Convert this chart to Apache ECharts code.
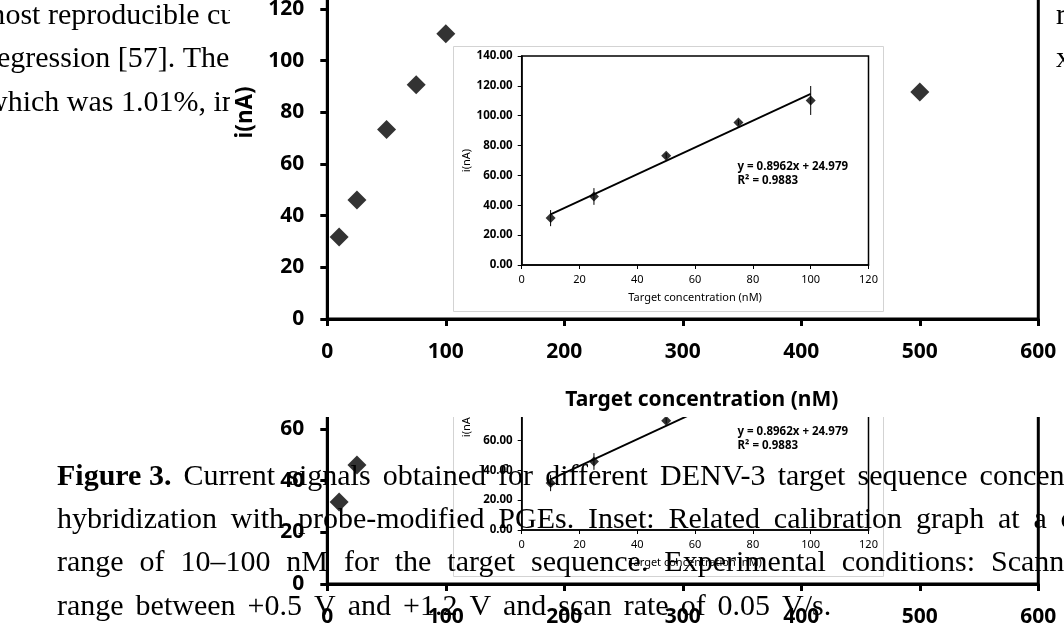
<!DOCTYPE html>
<html>
<head>
<meta charset="utf-8">
<script src="https://cdn.jsdelivr.net/npm/echarts@6/dist/echarts.min.js"></script>
<style>
  html, body { margin: 0; padding: 0; background: #fff; }
  #stage { position: relative; width: 1064px; height: 632px; overflow: hidden; background: #fff; }
  #main { position: absolute; left: 0; top: 0; width: 1064px; height: 632px; }
  #copyClip { position: absolute; left: 0; top: 417px; width: 1064px; height: 215px; overflow: hidden; background: #fff; }
  #copy { position: absolute; left: 0; top: -152px; width: 1064px; height: 632px; }
  #caption { position: absolute; left: 0; top: 0; width: 1064px; height: 632px; }
</style>
</head>
<body>
<div id="stage">
  <div id="main"></div>
  <div id="copyClip"><div id="copy"></div></div>
  <div id="caption"></div>
</div>
<script>
// Current response vs. target concentration (full range)
const concMain = [10, 25, 50, 75, 100, 500];
const currentMain = [31.7, 46.1, 73.4, 90.7, 110.4, 87.9];

// Calibration inset (10–100 nM) with standard deviations
const concInset = [10, 25, 50, 75, 100];
const currentInset = [31.4, 45.9, 73.2, 95.4, 110.2];
const sdInset = [5.4, 5.6, 1.8, 1.8, 9.7];

// Linear fit reported on the inset
const fitSlope = 0.8962;
const fitIntercept = 24.979;
const fitR2 = 0.9883;
const fitRange = [10, 100];

// Axis ranges [min, max, interval]
const mainXRange = [0, 600, 100];
const mainYRange = [0, 160, 20];
const insetXRange = [0, 120, 20];
const insetYRange = [0, 140, 20];

// Surrounding page text
const bodyLeft = ['most reproducible current', 'regression [57]. The linear', 'which was 1.01%, in'];
const bodyRight = ['r', 'x'];
const captionLines = [
  ['Figure 3.', 'Current', 'signals', 'obtained', 'for', 'different', 'DENV-3', 'target', 'sequence', 'concentrations', 'after'],
  ['hybridization', 'with', 'probe-modified', 'PGEs.', 'Inset:', 'Related', 'calibration', 'graph', 'at', 'a', 'concentration'],
  ['range', 'of', '10–100', 'nM', 'for', 'the', 'target', 'sequence.', 'Experimental', 'conditions:', 'Scanning'],
  ['range', 'between', '+0.5', 'V', 'and', '+1.2', 'V', 'and', 'scan', 'rate', 'of', '0.05', 'V/s.']
];

const SANS = 'Noto Sans';
const SERIF = 'Liberation Serif';
const BODY_SIZE = 30;

const measureCtx = document.createElement('canvas').getContext('2d');
function textWidth(str, size, weight) {
  measureCtx.font = `${weight} ${size}px "${SERIF}"`;
  return measureCtx.measureText(str).width;
}
// y for a 'middle'-aligned serif line sitting on a given baseline
function midFromBaseline(b, size) { return b - 0.34 * size; }

function serifText(str, x, baseline, weight, z) {
  return {
    type: 'text', x: x, y: midFromBaseline(baseline, BODY_SIZE), z: z || 0, silent: true,
    style: { text: str, fontFamily: SERIF, fontSize: BODY_SIZE, fontWeight: weight || 'normal',
             fill: '#000', align: 'left', verticalAlign: 'middle' }
  };
}

function buildChartOption() {
  const mainPoints = concMain.map((c, i) => [c, currentMain[i]]);
  const insetPoints = concInset.map((c, i) => [c, currentInset[i]]);
  const insetBars = concInset.map((c, i) => [c, currentInset[i] - sdInset[i], currentInset[i] + sdInset[i]]);
  const fitLine = fitRange.map(x => [x, fitSlope * x + fitIntercept]);

  const bodyBaselines = [26, 69.5, 113];
  const bodyLeftX = [-17.9, -13, -14];
  const graphics = [];
  bodyLeft.forEach((t, i) => graphics.push(serifText(t, bodyLeftX[i], bodyBaselines[i], 'normal', 0)));
  bodyRight.forEach((t, i) => graphics.push(serifText(t, 1056, bodyBaselines[i], 'normal', 0)));
  // white figure area
  graphics.push({ type: 'rect', z: 1, silent: true,
    shape: { x: 230, y: 0, width: 823, height: 632 }, style: { fill: '#fff' } });
  // inset frame
  graphics.push({ type: 'rect', z: 2, silent: true,
    shape: { x: 453.5, y: 46.5, width: 430, height: 265 },
    style: { fill: '#fff', stroke: '#d3d3d3', lineWidth: 1 } });
  // fit equation
  const eqStyle = { fontFamily: SANS, fontSize: 11.5, fontWeight: 'bold', fill: '#000', align: 'left', verticalAlign: 'middle' };
  graphics.push({ type: 'text', z: 7, silent: true, x: 737.5, y: 166.5,
    style: Object.assign({ text: `y = ${fitSlope}x + ${fitIntercept}` }, eqStyle) });
  graphics.push({ type: 'text', z: 7, silent: true, x: 737.5, y: 180.5,
    style: Object.assign({ text: `R² = ${fitR2}` }, eqStyle) });

  const bigLabel = { color: '#000', fontFamily: SANS, fontWeight: 'bold', fontSize: 21 };
  const smallBold = { color: '#000', fontFamily: SANS, fontWeight: 'bold', fontSize: 11.5 };
  const smallNormal = { color: '#000', fontFamily: SANS, fontWeight: 'normal', fontSize: 11 };

  return {
    animation: false,
    backgroundColor: 'transparent',
    graphic: { elements: graphics },
    grid: [
      { left: 327.3, top: -94.3, width: 711, height: 413.3, outerBoundsMode: 'none', containLabel: false,
        show: true, borderColor: '#000', borderWidth: 3, z: 5 },
      { left: 521.7, top: 56, width: 346.8, height: 209, outerBoundsMode: 'none', containLabel: false,
        show: true, borderColor: '#000', borderWidth: 1.5, z: 5 }
    ],
    xAxis: [
      { gridIndex: 0, type: 'value', min: mainXRange[0], max: mainXRange[1], interval: mainXRange[2], z: 5,
        axisLine: { lineStyle: { color: '#000', width: 3 } },
        axisTick: { length: 7, lineStyle: { color: '#000', width: 3 } },
        axisLabel: Object.assign({ margin: 23 }, bigLabel),
        splitLine: { show: false },
        name: 'Target concentration (nM)', nameLocation: 'middle', nameGap: 71,
        nameTextStyle: Object.assign({ padding: [0, 0, 0, 38] }, bigLabel) },
      { gridIndex: 1, type: 'value', min: insetXRange[0], max: insetXRange[1], interval: insetXRange[2], z: 5,
        axisLine: { lineStyle: { color: '#000', width: 1.5 } },
        axisTick: { length: 4, lineStyle: { color: '#000', width: 1 } },
        axisLabel: Object.assign({ margin: 9 }, smallNormal),
        splitLine: { show: false },
        name: 'Target concentration (nM)', nameLocation: 'middle', nameGap: 27,
        nameTextStyle: smallNormal }
    ],
    yAxis: [
      { gridIndex: 0, type: 'value', min: mainYRange[0], max: mainYRange[1], interval: mainYRange[2], z: 5,
        axisLine: { lineStyle: { color: '#000', width: 3 } },
        axisTick: { length: 7, lineStyle: { color: '#000', width: 3 } },
        axisLabel: Object.assign({ margin: 23 }, bigLabel),
        splitLine: { show: false },
        name: 'i(nA)', nameLocation: 'middle', nameGap: 64, nameRotate: 90,
        nameTextStyle: Object.assign({}, bigLabel, { fontSize: 22.5 }) },
      { gridIndex: 1, type: 'value', min: insetYRange[0], max: insetYRange[1], interval: insetYRange[2], z: 5,
        axisLine: { lineStyle: { color: '#000', width: 1.5 } },
        axisTick: { length: 4, lineStyle: { color: '#000', width: 1 } },
        axisLabel: Object.assign({ margin: 9, formatter: v => v.toFixed(2) }, smallBold),
        splitLine: { show: false },
        name: 'i(nA)', nameLocation: 'middle', nameGap: 42, nameRotate: 90,
        nameTextStyle: smallNormal }
    ],
    series: [
      { type: 'scatter', xAxisIndex: 0, yAxisIndex: 0, z: 6, symbol: 'diamond', symbolSize: 19,
        itemStyle: { color: '#000' }, data: mainPoints },
      { type: 'custom', xAxisIndex: 1, yAxisIndex: 1, z: 6, data: insetBars,
        renderItem: (params, api) => {
          const lo = api.coord([api.value(0), api.value(1)]);
          const hi = api.coord([api.value(0), api.value(2)]);
          return { type: 'line', shape: { x1: lo[0], y1: lo[1], x2: hi[0], y2: hi[1] },
                   style: { stroke: '#000', lineWidth: 1 } };
        } },
      { type: 'line', xAxisIndex: 1, yAxisIndex: 1, z: 6, data: fitLine, symbol: 'none',
        lineStyle: { color: '#000', width: 1.8 } },
      { type: 'scatter', xAxisIndex: 1, yAxisIndex: 1, z: 7, symbol: 'diamond', symbolSize: 10,
        itemStyle: { color: '#000' }, data: insetPoints }
    ]
  };
}

function buildCaptionOption() {
  const baselines = [487, 530, 573.5, 617];
  const gaps = [12.1, 13.8, 15.9, 12];
  const elements = [];
  captionLines.forEach((words, li) => {
    let x = 57;
    words.forEach((w, wi) => {
      const weight = (li === 0 && wi === 0) ? 'bold' : 'normal';
      elements.push(serifText(w, x, baselines[li], weight, 10));
      x += textWidth(w, BODY_SIZE, weight) + gaps[li];
    });
  });
  return { animation: false, backgroundColor: 'transparent', graphic: { elements: elements } };
}

const mainChart = echarts.init(document.getElementById('main'), null, { renderer: 'canvas' });
mainChart.setOption(buildChartOption());
const copyChart = echarts.init(document.getElementById('copy'), null, { renderer: 'canvas' });
copyChart.setOption(buildChartOption());
const captionChart = echarts.init(document.getElementById('caption'), null, { renderer: 'canvas' });
captionChart.setOption(buildCaptionOption());
</script>
</body>
</html>
